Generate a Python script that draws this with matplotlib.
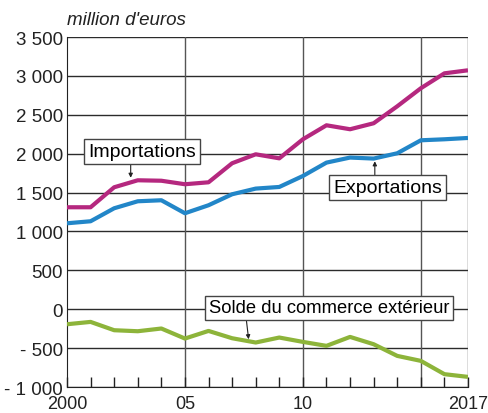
import matplotlib
matplotlib.use("Agg")
import matplotlib.pyplot as plt

plt.rcParams['font.family'] = ['Liberation Sans', 'DejaVu Sans']

years = list(range(2000, 2018))
importations = [1311, 1311, 1568, 1658, 1652, 1607, 1632, 1877, 1992, 1940,
                2185, 2365, 2314, 2391, 2609, 2841, 3033, 3072]
exportations = [1105, 1131, 1298, 1388, 1401, 1234, 1337, 1478, 1551, 1572,
                1713, 1885, 1950, 1937, 2005, 2172, 2185, 2202]
solde = [-193, -163, -270, -283, -248, -377, -279, -373, -428, -364,
         -420, -471, -356, -450, -600, -664, -835, -870]

y_ticks = [-1000, -500, 0, 500, 1000, 1500, 2000, 2500, 3000, 3500]
y_labels = ['- 1 000', '- 500', '0', '500', '1 000', '1 500', '2 000', '2 500', '3 000', '3 500']
x_ticks = [2000, 2005, 2010, 2017]
x_labels = ['2000', '05', '10', '2017']

fig = plt.figure(figsize=(4.88, 4.14), dpi=100)
ax = fig.add_axes([0.1373, 0.0628, 0.8217, 0.8454])

# grid
for v in y_ticks:
    ax.axhline(v, color='#2b2b2b', lw=1.0, zorder=1)
for yr in [2005, 2010, 2015, 2017]:
    ax.axvline(yr, color='#555555', lw=1.0, zorder=1)

ax.plot(years, importations, color='#b5287f', lw=3, solid_capstyle='butt', zorder=3)
ax.plot(years, exportations, color='#2286c8', lw=3, solid_capstyle='butt', zorder=3)
ax.plot(years, solde, color='#8db43a', lw=3, solid_capstyle='butt', zorder=3)

ax.set_xlim(2000, 2017)
ax.set_ylim(-1000, 3500)
for s in ['top', 'right']:
    ax.spines[s].set_visible(False)
ax.spines['left'].set_color('#222222')
ax.spines['bottom'].set_color('#222222')

ax.set_yticks(y_ticks)
ax.set_yticklabels(y_labels, fontsize=13.5, color='#222222')
ax.tick_params(axis='y', length=0, pad=3)

ax.set_xticks(x_ticks)
ax.set_xticklabels(x_labels, fontsize=13, color='#222222')
ax.set_xticks(years, minor=True)
ax.tick_params(axis='x', which='both', direction='in', length=7, width=1, color='#222222', pad=6)

ax.text(0.0, 1.025, "million d'euros", transform=ax.transAxes, fontsize=13.5,
        style='italic', ha='left', va='bottom', color='#222222')

box = dict(boxstyle='square,pad=0.2', fc='white', ec='#444444', lw=1)
arrow = dict(arrowstyle='-|>', color='#222222', lw=0.8, mutation_scale=6,
             shrinkA=0, shrinkB=0)

ax.text(2003.18, 2031, 'Importations', fontsize=14, ha='center', va='center',
        bbox=box, zorder=5)
ax.text(2013.58, 1568, 'Exportations', fontsize=14, ha='center', va='center',
        bbox=box, zorder=5)
ax.text(2011.1, 19, 'Solde du commerce extérieur', fontsize=13.2, ha='center',
        va='center', bbox=box, zorder=5)

ax.annotate('', xy=(2002.7, 1690), xytext=(2002.7, 1877), arrowprops=arrow, zorder=4)
ax.annotate('', xy=(2013.05, 1902), xytext=(2013.05, 1722), arrowprops=arrow, zorder=4)
ax.annotate('', xy=(2007.7, -386), xytext=(2007.6, -129), arrowprops=arrow, zorder=4)

fig.savefig('out.png', dpi=100)
